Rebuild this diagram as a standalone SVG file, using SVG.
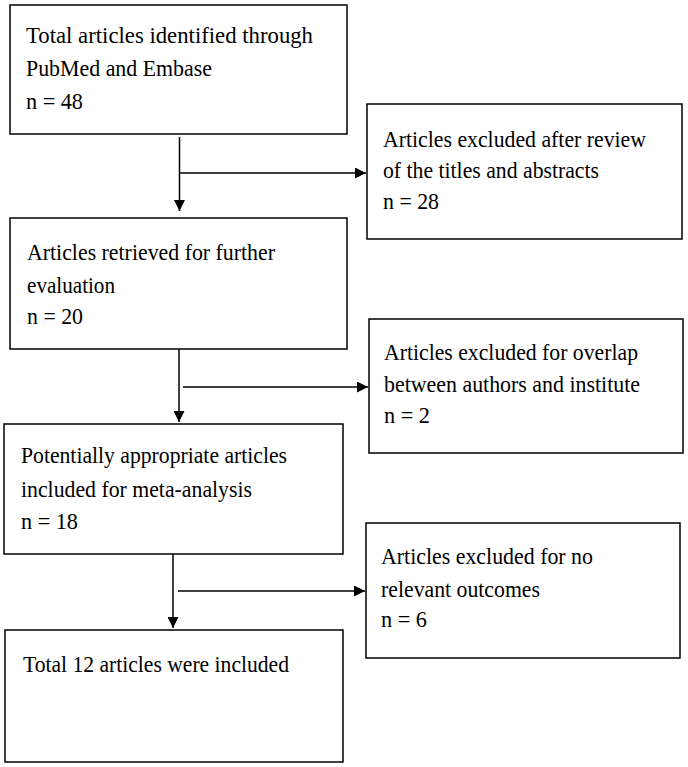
<svg xmlns="http://www.w3.org/2000/svg" width="688" height="767" viewBox="0 0 688 767">
<style>
.box{fill:#fff;stroke:#000;stroke-width:1.5}
.t{font-family:"Liberation Serif","Times New Roman","DejaVu Serif",serif;font-size:23px;fill:#000}
.c{stroke:#000;stroke-width:1.5;fill:none}
</style>
<defs>
<marker id="ah" markerUnits="userSpaceOnUse" markerWidth="12" markerHeight="11" refX="11" refY="5.5" orient="auto">
<path d="M0,0 L11,5.5 L0,11 Z" fill="#000"/>
</marker>
</defs>
<rect width="688" height="767" fill="#fff"/>
<g id="n1">
<rect class="box" x="10" y="5" width="337" height="129"/>
<text class="t" x="26" y="43" textLength="287" lengthAdjust="spacingAndGlyphs">Total articles identified through</text>
<text class="t" x="26" y="76" textLength="186" lengthAdjust="spacingAndGlyphs">PubMed and Embase</text>
<text class="t" x="26" y="109" textLength="57" lengthAdjust="spacingAndGlyphs">n = 48</text>
</g>
<g id="n2">
<rect class="box" x="367" y="104" width="315" height="135"/>
<text class="t" x="383" y="147" textLength="263" lengthAdjust="spacingAndGlyphs">Articles excluded after review</text>
<text class="t" x="383" y="178" textLength="216" lengthAdjust="spacingAndGlyphs">of the titles and abstracts</text>
<text class="t" x="383" y="209" textLength="56" lengthAdjust="spacingAndGlyphs">n = 28</text>
</g>
<g id="n3">
<rect class="box" x="10" y="218" width="337" height="131"/>
<text class="t" x="27" y="260" textLength="248" lengthAdjust="spacingAndGlyphs">Articles retrieved for further</text>
<text class="t" x="27" y="293" textLength="88" lengthAdjust="spacingAndGlyphs">evaluation</text>
<text class="t" x="27" y="324" textLength="56" lengthAdjust="spacingAndGlyphs">n = 20</text>
</g>
<g id="n4">
<rect class="box" x="369" y="319" width="314" height="134"/>
<text class="t" x="384" y="360" textLength="254" lengthAdjust="spacingAndGlyphs">Articles excluded for overlap</text>
<text class="t" x="384" y="392" textLength="256" lengthAdjust="spacingAndGlyphs">between authors and institute</text>
<text class="t" x="384" y="423" textLength="46" lengthAdjust="spacingAndGlyphs">n = 2</text>
</g>
<g id="n5">
<rect class="box" x="4" y="424" width="339" height="130"/>
<text class="t" x="21" y="463" textLength="266" lengthAdjust="spacingAndGlyphs">Potentially appropriate articles</text>
<text class="t" x="21" y="497" textLength="231" lengthAdjust="spacingAndGlyphs">included for meta-analysis</text>
<text class="t" x="21" y="529" textLength="57" lengthAdjust="spacingAndGlyphs">n = 18</text>
</g>
<g id="n6">
<rect class="box" x="366" y="523" width="314" height="135"/>
<text class="t" x="381" y="564" textLength="212" lengthAdjust="spacingAndGlyphs">Articles excluded for no</text>
<text class="t" x="381" y="597" textLength="159" lengthAdjust="spacingAndGlyphs">relevant outcomes</text>
<text class="t" x="381" y="627" textLength="46" lengthAdjust="spacingAndGlyphs">n = 6</text>
</g>
<g id="n7">
<rect class="box" x="5" y="630" width="338" height="132"/>
<text class="t" x="23" y="672" textLength="266" lengthAdjust="spacingAndGlyphs">Total 12 articles were included</text>
</g>
<g id="connectors">
<line class="c" x1="179.5" y1="137" x2="179.5" y2="211" marker-end="url(#ah)"/>
<line class="c" x1="180" y1="173" x2="366" y2="173" marker-end="url(#ah)"/>
<line class="c" x1="179" y1="349" x2="179" y2="422" marker-end="url(#ah)"/>
<line class="c" x1="183" y1="387" x2="368" y2="387" marker-end="url(#ah)"/>
<line class="c" x1="173" y1="554" x2="173" y2="628" marker-end="url(#ah)"/>
<line class="c" x1="178" y1="591" x2="365" y2="591" marker-end="url(#ah)"/>
</g>
</svg>
